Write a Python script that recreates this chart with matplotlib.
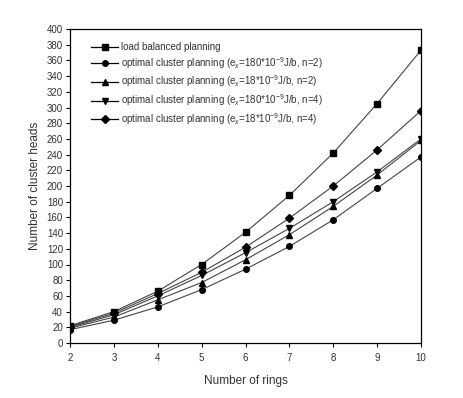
import matplotlib
matplotlib.use("Agg")
import matplotlib.pyplot as plt
from matplotlib.lines import Line2D

plt.rcParams['font.family'] = ['Liberation Sans', 'DejaVu Sans']
plt.rcParams['mathtext.fontset'] = 'custom'
plt.rcParams['mathtext.rm'] = 'Liberation Sans'
plt.rcParams['mathtext.it'] = 'Liberation Sans:italic'

rings = [2, 3, 4, 5, 6, 7, 8, 9, 10]
load_balanced = [22, 40, 66, 100, 141, 188, 242, 305, 373]
opt_180_n2 = [17, 29, 46, 68, 94, 123, 157, 197, 237]
opt_18_n2 = [19, 33, 55, 77, 106, 138, 174, 214, 258]
opt_180_n4 = [20, 36, 60, 86, 115, 146, 180, 218, 260]
opt_18_n4 = [21, 38, 63, 90, 122, 159, 200, 246, 296]

labels = [
    "load balanced planning",
    r"optimal cluster planning (e$_x$=180*10$^{-9}$J/b, n=2)",
    r"optimal cluster planning (e$_x$=18*10$^{-9}$J/b, n=2)",
    r"optimal cluster planning (e$_x$=180*10$^{-9}$J/b, n=4)",
    r"optimal cluster planning (e$_x$=18*10$^{-9}$J/b, n=4)",
]
series = [load_balanced, opt_180_n2, opt_18_n2, opt_180_n4, opt_18_n4]
markers = ['s', 'o', '^', 'v', 'D']
msizes = [4, 4, 4.5, 4.5, 3.6]

fig = plt.figure(figsize=(4.63, 3.98), dpi=100)
ax = fig.add_axes([70/463, 1-343/398, (421-70)/463, (343-29)/398])

handles = []
for ys, m, ms, lab in zip(series, markers, msizes, labels):
    ax.plot(rings, ys, color='#444444', lw=0.8, zorder=2)
    ax.plot(rings, ys, linestyle='none', marker=m, markersize=ms,
            color='black', zorder=3)
    handles.append(Line2D([], [], color='black', lw=0.9, marker=m,
                          markersize=ms, label=lab))

ax.set_xlim(2, 10)
ax.set_ylim(0, 400)
ax.set_xticks(rings)
ax.set_yticks(range(0, 401, 20))
ax.tick_params(axis='both', direction='out', length=3, width=0.8,
               labelsize=7, colors='black', labelcolor='#333333', pad=2)
ax.tick_params(axis='x', pad=4)
for s in ax.spines.values():
    s.set_linewidth(0.9)
    s.set_color('black')

ax.set_xlabel("Number of rings", fontsize=8.5, color='#333333', labelpad=9)
ax.set_ylabel("Number of cluster heads", fontsize=8.5, color='#333333', labelpad=4)

leg = fig.legend(handles=handles, loc='upper left',
                 bbox_to_anchor=(91/463, 1-42/398), frameon=False,
                 fontsize=7, handlelength=2.8, handletextpad=0.25,
                 labelspacing=0.3, borderpad=0, borderaxespad=0)
for t in leg.get_texts():
    t.set_color('#333333')

fig.savefig("out.png", dpi=100)
